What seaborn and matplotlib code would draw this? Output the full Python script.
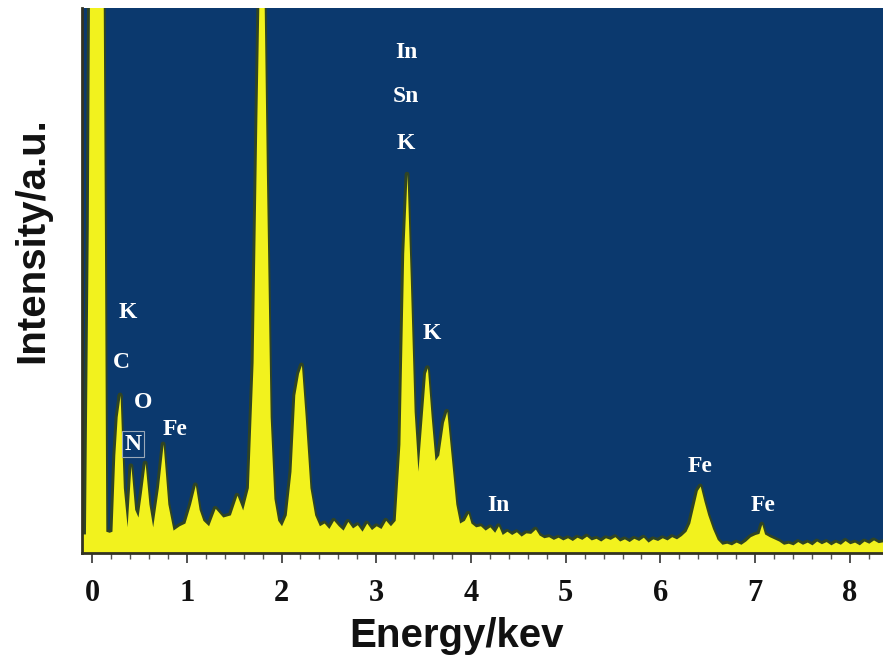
import numpy as np
import pandas as pd
import seaborn as sns
import matplotlib.pyplot as plt
from matplotlib.ticker import MultipleLocator

# spectrum (energy in keV, intensity in a.u.)
energy = [-0.11, -0.07, -0.04, -0.025, 0.115, 0.13, 0.145, 0.18, 0.21,
          0.24, 0.265, 0.296, 0.33, 0.37, 0.41, 0.45, 0.485, 0.52, 0.56,
          0.60, 0.64, 0.70, 0.75, 0.80, 0.855, 0.92, 0.98, 1.04, 1.09,
          1.13, 1.17, 1.23, 1.30, 1.38, 1.46, 1.53, 1.59, 1.65, 1.70,
          1.74, 1.77, 1.81, 1.84, 1.88, 1.92, 1.96, 2.00, 2.05, 2.10,
          2.14, 2.18, 2.21, 2.25, 2.30, 2.35, 2.40, 2.45, 2.50, 2.55,
          2.60, 2.65, 2.70, 2.75, 2.80, 2.85, 2.90, 2.95, 3.00, 3.05,
          3.10, 3.15, 3.20, 3.25, 3.29, 3.325, 3.36, 3.40, 3.44, 3.48,
          3.52, 3.54, 3.58, 3.62, 3.66, 3.71, 3.745, 3.79, 3.84, 3.88,
          3.93, 3.97, 4.00, 4.05, 4.10, 4.15, 4.20, 4.25, 4.29, 4.33,
          4.38, 4.43, 4.48, 4.53, 4.58, 4.63, 4.68, 4.72, 4.77, 4.82,
          4.87, 4.92, 4.97, 5.02, 5.07, 5.12, 5.17, 5.22, 5.27, 5.32,
          5.37, 5.42, 5.47, 5.52, 5.57, 5.62, 5.67, 5.72, 5.77, 5.82,
          5.87, 5.92, 5.97, 6.02, 6.07, 6.12, 6.17, 6.22, 6.27, 6.31,
          6.35, 6.39, 6.42, 6.46, 6.50, 6.55, 6.60, 6.65, 6.70, 6.75,
          6.80, 6.85, 6.90, 6.95, 7.00, 7.04, 7.07, 7.10, 7.15, 7.20,
          7.25, 7.30, 7.35, 7.40, 7.45, 7.50, 7.55, 7.60, 7.65, 7.70,
          7.75, 7.80, 7.85, 7.90, 7.95, 8.00, 8.05, 8.10, 8.15, 8.20,
          8.25, 8.30, 8.36]
intensity = [3.5, 3.5, 60, 110, 110, 60, 4.0, 3.8, 4.0,
             18, 25, 29, 12, 4.8, 16, 8, 6.6, 11, 16.5,
             9, 4.8, 12, 20, 9, 4.2, 5.0, 5.5, 9, 12.5,
             8, 6.0, 5.0, 8.2, 6.6, 7.0, 10.6, 7.9, 12, 35,
             80, 110, 110, 70, 25, 10, 6, 5, 7, 15,
             29, 33, 34.5, 25, 12, 7, 5, 5.5, 4.5, 6.0,
             5.0, 4.2, 5.8, 4.6, 5.2, 4.0, 5.5, 4.3, 5.0, 4.5,
             6.0, 5.0, 6.0, 20, 55, 69.5, 50, 26, 15, 24,
             33, 34, 25, 17, 18, 24, 26, 18, 9, 5.5,
             6.0, 7.3, 5.5, 4.8, 5.0, 4.2, 4.8, 3.8, 5.0, 3.4,
             4.0, 3.4, 3.9, 3.1, 3.7, 3.6, 4.4, 3.3, 2.8, 3.0,
             2.5, 2.9, 2.4, 2.8, 2.3, 2.9, 2.5, 3.1, 2.4, 2.7,
             2.2, 2.8, 2.5, 3.0, 2.2, 2.6, 2.1, 2.7, 2.3, 2.9,
             2.0, 2.6, 2.3, 2.8, 2.4, 3.0, 2.6, 3.2, 4.0, 5.5,
             8.5, 11.5, 12.3, 9.5, 7.0, 4.5, 2.5, 1.6, 1.8, 1.5,
             2.0, 1.6, 2.2, 3.0, 3.4, 3.6, 5.3, 3.5, 3.0, 2.6,
             2.2, 1.6, 1.8, 1.5, 2.1, 1.6, 2.0, 1.5, 2.2, 1.7,
             2.1, 1.5, 2.0, 1.6, 2.3, 1.7, 2.0, 1.5, 2.2, 1.8,
             2.4, 1.9, 2.1]

# peak labels: text, energy, intensity
label_text = ['K', 'C', 'O', 'N', 'Fe', 'In', 'Sn', 'K', 'K', 'In', 'Fe', 'Fe']
label_x = [0.38, 0.306, 0.538, 0.433, 0.876, 3.314, 3.314, 3.314, 3.588, 4.285, 6.417, 7.08]
label_y = [44.2, 35.0, 27.7, 20.0, 22.6, 91.9, 83.7, 75.2, 40.2, 8.8, 15.8, 8.8]

df = pd.DataFrame({'Energy': energy, 'Intensity': intensity})

navy = '#0b396e'
yellow = '#f2f21e'
edge = '#2f4424'

sns.set_theme(style='white')

fig = plt.figure(figsize=(8.83, 6.65), dpi=100)
ax = fig.add_axes([0.0929, 0.1684, 0.9071, 0.8196])
ax.set_facecolor(navy)

sns.lineplot(data=df, x='Energy', y='Intensity', ax=ax, color=edge, lw=3.5, zorder=1)
ax.fill_between(df['Energy'], df['Intensity'], 0, color=yellow, lw=0, zorder=2)

for t, x, y in zip(label_text, label_x, label_y):
    box = None
    if t == 'N':
        box = dict(facecolor=navy, edgecolor='#9aa8b8', lw=0.8, pad=1.5)
    ax.text(x, y, t, color='white', ha='center', va='center', fontsize=17,
            fontweight='bold', family='Liberation Serif', bbox=box, zorder=3)

ax.set_xlim(-0.106, 8.35)
ax.set_ylim(0, 100)
ax.set_yticks([])
ax.xaxis.set_major_locator(MultipleLocator(1))
ax.xaxis.set_minor_locator(MultipleLocator(0.2))
ax.tick_params(axis='x', which='major', direction='out', length=7, width=1.2,
               color='#333333', pad=12, bottom=True)
ax.tick_params(axis='x', which='minor', direction='out', length=4, width=1,
               color='#555555', bottom=True)
for lab in ax.get_xticklabels():
    lab.set_fontfamily('Liberation Serif')
    lab.set_fontweight('bold')
    lab.set_fontsize(22)
    lab.set_color('#111111')

for s in ['top', 'right']:
    ax.spines[s].set_visible(False)
ax.spines['bottom'].set_color('#333322')
ax.spines['bottom'].set_linewidth(2)
ax.spines['left'].set_color('#333322')
ax.spines['left'].set_linewidth(2)

ax.set_xlabel('Energy/kev', fontsize=29, fontweight='bold', family='Liberation Sans', color='#111111')
ax.set_ylabel('Intensity/a.u.', fontsize=29, fontweight='bold', family='Liberation Sans', color='#111111')
ax.xaxis.set_label_coords(0.467, -0.118)
ax.yaxis.set_label_coords(-0.038, 0.574)

fig.savefig('out.png', dpi=100)
